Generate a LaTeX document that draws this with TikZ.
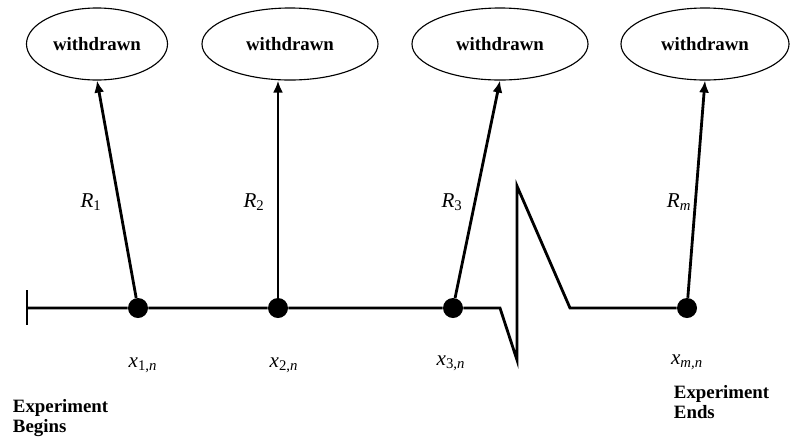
\documentclass[tikz,border=0pt]{standalone}
\usepackage{fontspec}
\setmainfont{Liberation Serif}
\usetikzlibrary{arrows.meta,shapes.geometric}

\begin{document}
\begin{tikzpicture}[x=0.025cm,y=-0.025cm,font=\fontsize{15}{16}\selectfont,
  state/.style={draw,ellipse,line width=0.8pt,minimum height=1.8cm,font=\fontsize{13.4}{14.5}\selectfont\bfseries},
  dot/.style={circle,fill,inner sep=0pt,minimum size=0.5cm},
  axis/.style={line width=2pt},
  lbl/.style={font=\fontsize{13.4}{14.5}\selectfont\bfseries,align=left,anchor=west},
  >={Latex[length=3mm,width=2.5mm]}]
\useasboundingbox (0,0) rectangle (792,437);
% withdrawal states
\node[state,minimum width=3.525cm] (w1) at (97,44) {withdrawn};
\node[state,minimum width=4.4cm] (w2) at (290,44) {withdrawn};
\node[state,minimum width=4.4cm] (w3) at (500,44) {withdrawn};
\node[state,minimum width=4.2cm] (wm) at (705,44) {withdrawn};
% failure points on the time line
\node[dot] (d1) at (138,308) {};
\node[dot] (d2) at (278,308) {};
\node[dot] (d3) at (453,308) {};
\node[dot] (dm) at (687,308) {};
\coordinate (start) at (27,308);
\coordinate (b1) at (500,308);
\coordinate (b2) at (517,360);
\coordinate (b3) at (517,186);
\coordinate (b4) at (570,308);
\draw[axis] (27,290) -- (27,325);
\draw[axis] (start) -- (d1) -- (d2) -- (d3) -- (b1) -- (b2) -- (b3) -- (b4) -- (dm);
\foreach \x/\y in {d1/w1,d3/w3,dm/wm}{\draw[axis,->] (\x)--(\y.south);}
\draw[axis,->] (d2)--(d2 |- w2.south);
% labels
\node (r1) at (91,202) {\textit{R}\textsubscript{1}};
\node (r2) at (254,202) {\textit{R}\textsubscript{2}};
\node (r3) at (452,202) {\textit{R}\textsubscript{3}};
\node (rm) at (679,202) {\textit{R}\textsubscript{\textit{m}}};
\node (x1) at (143,365) {\textit{x}\textsubscript{1,\textit{n}}};
\node (x2) at (284,365) {\textit{x}\textsubscript{2,\textit{n}}};
\node (x3) at (451,363) {\textit{x}\textsubscript{3,\textit{n}}};
\node (xm) at (687,362) {\textit{x}\textsubscript{\textit{m,n}}};
\node[lbl] (begin) at (8,418) {Experiment\\Begins};
\node[lbl] (end) at (669,402) {Experiment\\Ends};
\end{tikzpicture}
\end{document}
